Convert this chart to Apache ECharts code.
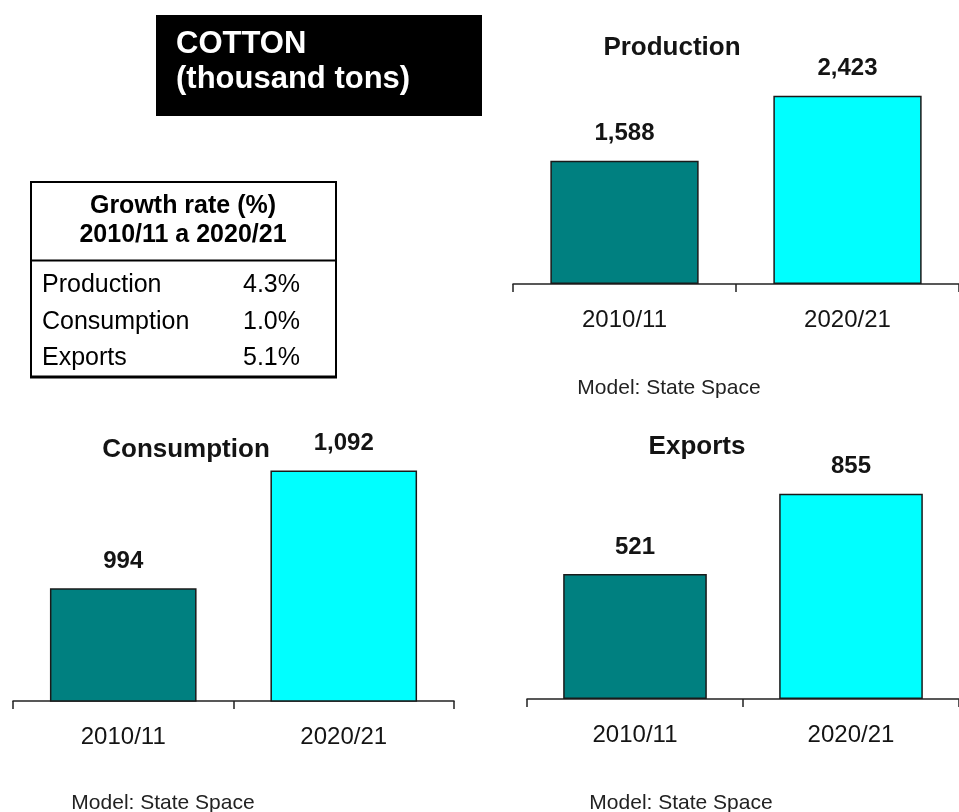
<!DOCTYPE html>
<html>
<head>
<meta charset="utf-8">
<script src="https://cdn.jsdelivr.net/npm/echarts@6/dist/echarts.min.js"></script>
<style>
html,body{margin:0;padding:0;background:#fff;}
#chart{width:959px;height:812px;}
</style>
</head>
<body>
<div id="chart"></div>
<script>
// ---- data ----
const categories = ['2010/11', '2020/21'];
const production = [1588, 2423];
const consumption = [994, 1092];
const exportsData = [521, 855];
const panelTitles = ['Production', 'Consumption', 'Exports'];
const growthLabels = ['Production', 'Consumption', 'Exports'];
const growthRates = ['4.3%', '1.0%', '5.1%'];
const mainTitle = ['COTTON', '(thousand tons)'];
const tableHeader = ['Growth rate (%)', '2010/11 a 2020/21'];
const modelNote = 'Model: State Space';

// ---- style ----
const FONT = '"Liberation Sans", Arial, sans-serif';
const barColors = ['#008080', '#00FFFF'];
const inkColor = '#141414';

const chart = echarts.init(document.getElementById('chart'));

const grids = [
  { left: 513, top: 51, width: 450, height: 233 },     // Production
  { left: 13, top: 461, width: 441, height: 240 },     // Consumption
  { left: 527, top: 459, width: 434, height: 240 }     // Exports
];
const yRanges = [[0, 3000], [900, 1100], [0, 1000]];
const seriesData = [production, consumption, exportsData];

const xAxes = grids.map((g, i) => ({
  type: 'category',
  gridIndex: i,
  data: categories,
  boundaryGap: true,
  axisLine: { show: true, lineStyle: { color: '#222', width: 1.5 } },
  axisTick: { show: true, length: 8, alignWithLabel: false, lineStyle: { color: '#222', width: 1.5 } },
  axisLabel: { fontFamily: FONT, fontSize: 24, color: inkColor, margin: 24 },
  splitLine: { show: false }
}));

const yAxes = grids.map((g, i) => ({
  type: 'value',
  gridIndex: i,
  min: yRanges[i][0],
  max: yRanges[i][1],
  show: false,
  splitLine: { show: false }
}));

const series = seriesData.map((d, i) => ({
  type: 'bar',
  xAxisIndex: i,
  yAxisIndex: i,
  data: d,
  barWidth: '66.5%',
  itemStyle: {
    color: (p) => barColors[p.dataIndex],
    borderColor: '#1a1a1a',
    borderWidth: 1.5
  },
  label: {
    show: true,
    position: 'top',
    distance: 15,
    fontFamily: FONT,
    fontSize: 24,
    fontWeight: 'bold',
    color: inkColor,
    formatter: (p) => p.value.toLocaleString('en-US')
  },
  animation: false
}));

function txt(text, x, y, size, opts) {
  opts = opts || {};
  return {
    type: 'text',
    silent: true,
    style: {
      text: text,
      x: x,
      y: y,
      font: (opts.bold ? 'bold ' : '') + size + 'px ' + FONT,
      fill: opts.fill || '#000',
      textAlign: opts.align || 'left',
      textVerticalAlign: 'middle',
      verticalAlign: 'middle'
    }
  };
}

const graphic = [
  // title box
  { type: 'rect', silent: true, shape: { x: 156, y: 15, width: 326, height: 101 }, style: { fill: '#000' } },
  txt(mainTitle[0], 176, 44.5, 31, { bold: true, fill: '#fff' }),
  txt(mainTitle[1], 176, 79.5, 31, { bold: true, fill: '#fff' }),
  // growth table
  { type: 'rect', silent: true, shape: { x: 31, y: 182, width: 305, height: 195 }, style: { fill: 'none', stroke: '#000', lineWidth: 2 } },
  { type: 'line', silent: true, shape: { x1: 31, y1: 260.5, x2: 336, y2: 260.5 }, style: { stroke: '#000', lineWidth: 2 } },
  { type: 'line', silent: true, shape: { x1: 30, y1: 377, x2: 337, y2: 377 }, style: { stroke: '#000', lineWidth: 3 } },
  txt(tableHeader[0], 183, 206, 25, { bold: true, align: 'center' }),
  txt(tableHeader[1], 183, 235.5, 25, { bold: true, align: 'center' }),
  // panel titles
  txt(panelTitles[0], 672, 48, 26, { bold: true, align: 'center', fill: inkColor }),
  txt(panelTitles[1], 186, 450, 26, { bold: true, align: 'center', fill: inkColor }),
  txt(panelTitles[2], 697, 447, 26, { bold: true, align: 'center', fill: inkColor }),
  // model notes
  txt(modelNote, 669, 388, 21, { align: 'center', fill: '#222' }),
  txt(modelNote, 163, 803, 21, { align: 'center', fill: '#222' }),
  txt(modelNote, 681, 803, 21, { align: 'center', fill: '#222' })
];

const rowY = [285, 322, 358.5];
growthLabels.forEach((lab, i) => {
  graphic.push(txt(lab, 42, rowY[i], 25));
  graphic.push(txt(growthRates[i], 300, rowY[i], 25, { align: 'right' }));
});

chart.setOption({
  animation: false,
  backgroundColor: '#fff',
  grid: grids,
  xAxis: xAxes,
  yAxis: yAxes,
  series: series,
  graphic: graphic
});
</script>
</body>
</html>
